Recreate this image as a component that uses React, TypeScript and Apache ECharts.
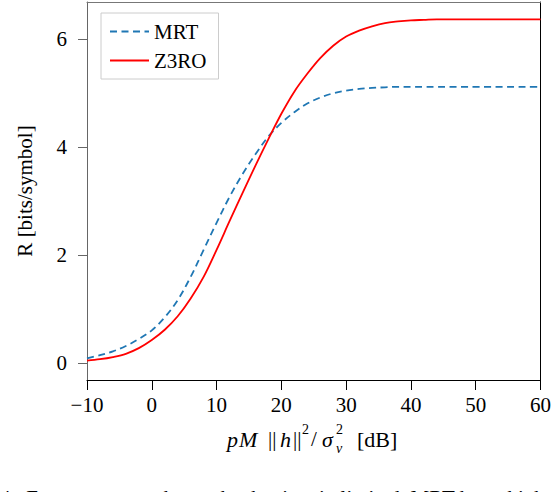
import React, { useEffect, useRef } from "react";
import * as echarts from "echarts";

const snrDb = [-10, -8, -6, -4, -2, 0, 2, 4, 6, 8, 10, 12, 14, 16, 18, 20, 22, 24, 26, 28, 30, 32, 34, 36, 38, 40, 42, 44, 46, 48, 50, 52, 54, 56, 58, 60];
const mrtRate = [0.09, 0.15, 0.22, 0.32, 0.45, 0.61, 0.85, 1.17, 1.6, 2.1, 2.6, 3.08, 3.5, 3.87, 4.2, 4.45, 4.65, 4.81, 4.92, 5.0, 5.05, 5.08, 5.1, 5.11, 5.12, 5.12, 5.12, 5.12, 5.12, 5.12, 5.12, 5.12, 5.12, 5.12, 5.12, 5.12];
const z3roRate = [0.05, 0.075, 0.115, 0.175, 0.28, 0.43, 0.62, 0.87, 1.2, 1.6, 2.1, 2.63, 3.15, 3.66, 4.15, 4.62, 5.03, 5.36, 5.65, 5.88, 6.05, 6.16, 6.24, 6.3, 6.33, 6.35, 6.36, 6.37, 6.37, 6.37, 6.37, 6.37, 6.37, 6.37, 6.37, 6.37];
const seriesNames = ["MRT", "Z3RO"];
const yTicks = [0, 2, 4, 6];
const xTicks = [-10, 0, 10, 20, 30, 40, 50, 60];

const SERIF = "'Liberation Serif', 'DejaVu Serif', serif";

export default function App() {
  const ref = useRef<HTMLDivElement>(null);
  useEffect(() => {
    if (!ref.current) return;
    const chart = echarts.init(ref.current, null, { renderer: "svg" });
    const fs = 21;
    const mk = (text: string, x: number, y: number, size: number, italic = false) => ({
      type: "text",
      style: {
        text,
        x,
        y,
        font: `${italic ? "italic " : ""}${size}px ${SERIF}`,
        fill: "#000",
        align: "left",
        verticalAlign: "middle",
      },
    });
    chart.setOption({
      animation: false,
      backgroundColor: "#fff",
      grid: { left: 87, right: 13, top: 2, bottom: 112, containLabel: false },
      legend: {
        left: 101,
        top: 13,
        orient: "vertical",
        padding: [8, 12, 8, 8],
        itemGap: 8,
        itemWidth: 39,
        itemHeight: 14,
        backgroundColor: "#fff",
        borderColor: "#cccccc",
        borderWidth: 1,
        itemStyle: { opacity: 0 },
        textStyle: { fontFamily: SERIF, fontSize: fs, color: "#000", lineHeight: 21 },
        data: seriesNames,
      },
      xAxis: [
        {
          type: "value",
          min: -10,
          max: 60,
          interval: 10,
          axisLine: { show: true, onZero: false, lineStyle: { color: "#000", width: 1 } },
          axisTick: { show: true, length: 10, inside: false, lineStyle: { color: "#000" }, customValues: xTicks },
          axisLabel: {
            show: true,
            margin: 14,
            fontFamily: SERIF,
            fontSize: fs,
            color: "#000",
            customValues: xTicks,
            formatter: (v: number) => (v < 0 ? "\u2212" + Math.abs(v) : String(v)),
          },
          splitLine: { show: false },
        },
        {
          type: "value",
          position: "top",
          min: -10,
          max: 60,
          axisLine: { show: true, onZero: false, lineStyle: { color: "#777", width: 1 } },
          axisTick: { show: false },
          axisLabel: { show: false },
          splitLine: { show: false },
        },
      ],
      yAxis: [
        {
          type: "value",
          min: -0.31,
          max: 6.69,
          name: "R [bits/symbol]",
          nameLocation: "middle",
          nameGap: 52,
          nameRotate: 90,
          nameTextStyle: { fontFamily: SERIF, fontSize: fs, color: "#000" },
          axisLine: { show: true, onZero: false, lineStyle: { color: "#666", width: 1 } },
          axisTick: { show: true, length: 9, inside: false, lineStyle: { color: "#666" }, customValues: yTicks },
          axisLabel: {
            show: true,
            margin: 20,
            fontFamily: SERIF,
            fontSize: fs,
            color: "#000",
            customValues: yTicks,
          },
          splitLine: { show: false },
        },
        {
          type: "value",
          position: "right",
          min: -0.31,
          max: 6.69,
          axisLine: { show: true, onZero: false, lineStyle: { color: "#000", width: 1 } },
          axisTick: { show: false },
          axisLabel: { show: false },
          splitLine: { show: false },
        },
      ],
      series: [
        {
          name: seriesNames[0],
          type: "line",
          xAxisIndex: 0,
          yAxisIndex: 0,
          symbol: "none",
          showSymbol: false,
          smooth: 0.35,
          lineStyle: { color: "#1f77b4", width: 1.8, type: [7, 4.5] },
          itemStyle: { color: "#1f77b4" },
          data: snrDb.map((x, i) => [x, mrtRate[i]]),
          z: 3,
        },
        {
          name: seriesNames[1],
          type: "line",
          xAxisIndex: 0,
          yAxisIndex: 0,
          symbol: "none",
          showSymbol: false,
          smooth: 0.35,
          lineStyle: { color: "#ff0000", width: 1.8, type: "solid" },
          itemStyle: { color: "#ff0000" },
          data: snrDb.map((x, i) => [x, z3roRate[i]]),
          z: 4,
        },
      ],
      graphic: [
        mk("p", 227, 439, fs + 1, true),
        mk("M", 239, 439, fs + 1, true),
        mk("||", 268, 439, fs),
        mk("h", 280, 439, fs + 1, true),
        mk("||", 293, 439, fs),
        mk("2", 302, 429, 14),
        mk("/", 311, 439, fs),
        mk("\u03C3", 322, 439, fs + 1, true),
        mk("2", 336, 429, 14),
        mk("v", 336, 448, 14, true),
        mk("[dB]", 357, 439, fs + 1),
        mk("4.  For parameters that make the time in limited, MRT has a high", 0, 498, fs),
      ],
    });
    return () => chart.dispose();
  }, []);
  return (
    <div
      ref={ref}
      style={{ position: "fixed", left: 0, top: 0, width: 554, height: 492, background: "#fff" }}
    />
  );
}
